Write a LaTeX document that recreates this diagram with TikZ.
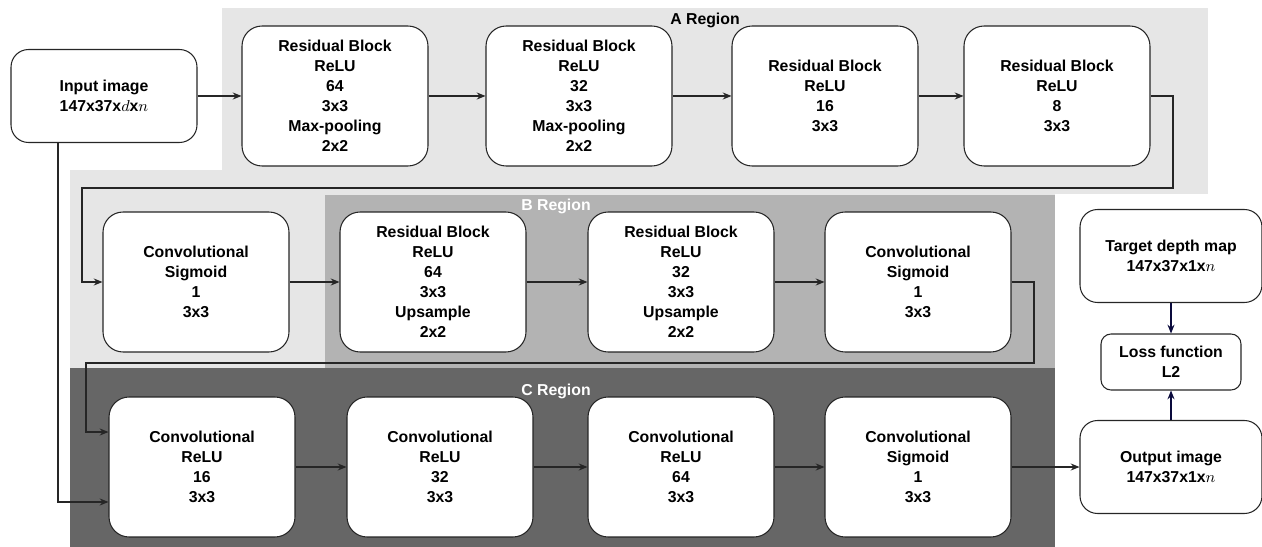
\documentclass[tikz,border=0pt]{standalone}
\usepackage{fontspec}
\setmainfont{Liberation Sans}
\usetikzlibrary{arrows.meta}
\definecolor{regionagray}{HTML}{E6E6E6}
\definecolor{regionbgray}{HTML}{B3B3B3}
\definecolor{regioncgray}{HTML}{666666}
\definecolor{linegray}{HTML}{262626}
\definecolor{arrownavy}{HTML}{0A0A3C}
\begin{document}
\begin{tikzpicture}
[x=0.02cm,y=-0.02cm,
  font=\fontsize{9}{11.4}\selectfont\bfseries,
  nodedecorate/.style={shape=rectangle,rounded corners=0.4cm,draw=linegray,fill=white,
    line width=0.6pt,align=center,minimum width=3.72cm,minimum height=2.8cm,inner sep=2pt},
  smalldecorate/.style={nodedecorate,minimum width=3.64cm,minimum height=1.86cm,rounded corners=0.35cm},
  lossdecorate/.style={nodedecorate,minimum width=2.8cm,minimum height=1.12cm,rounded corners=0.2cm},
  linedecorate/.style={-{Stealth[length=5pt,width=4pt]},line width=0.6pt,draw=linegray},
  regiontitle/.style={font=\fontsize{9}{11}\selectfont\bfseries}]
\useasboundingbox (0,0) rectangle (1262,547);
%% region backgrounds
\fill[regionagray] (222,8) rectangle (1208,194);
\fill[regionagray] (70,170) rectangle (1055,368);
\fill[regionbgray] (325,195) rectangle (1055,368);
\fill[regioncgray] (70,368) rectangle (1055,547);
\node[regiontitle] (atitle) at (705,20) {A Region};
\node[regiontitle,text=white] (btitle) at (556,206) {B Region};
\node[regiontitle,text=white] (ctitle) at (556,391) {C Region};
%% nodes or vertices
\node (inp) at (104,96) [smalldecorate,minimum width=3.72cm] {Input image\\147x37x$d$x$n$};
\foreach \nodename/\x/\y/\txt in {
  rba/335/96/{Residual Block\\ReLU\\64\\3x3\\Max-pooling\\2x2},
  rbb/579/96/{Residual Block\\ReLU\\32\\3x3\\Max-pooling\\2x2},
  rbc/825/96/{Residual Block\\ReLU\\16\\3x3},
  rbd/1057/96/{Residual Block\\ReLU\\8\\3x3},
  csa/196/282/{Convolutional\\Sigmoid\\1\\3x3},
  rbe/433/282/{Residual Block\\ReLU\\64\\3x3\\Upsample\\2x2},
  rbf/681/282/{Residual Block\\ReLU\\32\\3x3\\Upsample\\2x2},
  csb/918/282/{Convolutional\\Sigmoid\\1\\3x3},
  cva/202/467/{Convolutional\\ReLU\\16\\3x3},
  cvb/440/467/{Convolutional\\ReLU\\32\\3x3},
  cvc/681/467/{Convolutional\\ReLU\\64\\3x3},
  cvd/918/467/{Convolutional\\Sigmoid\\1\\3x3}} {
  \node (\nodename) at (\x,\y) [nodedecorate] {\txt};
}
\node (tgt) at (1171,256) [smalldecorate] {Target depth map\\147x37x1x$n$};
\node (loss) at (1171,362) [lossdecorate] {Loss function\\L2};
\node (out) at (1171,467) [smalldecorate] {Output image\\147x37x1x$n$};
%% edges or lines
\path
\foreach \startnode/\endnode in {inp/rba, rba/rbb, rbb/rbc, rbc/rbd, csa/rbe, rbe/rbf,
  rbf/csb, cva/cvb, cvb/cvc, cvc/cvd, cvd/out} {
  (\startnode) edge[linedecorate] (\endnode)
};
\path
\foreach \startnode/\endnode in {tgt/loss, out/loss} {
  (\startnode) edge[linedecorate,draw=arrownavy] (\endnode)
};
%% wrap-around lines
\coordinate (wrapa) at (1173,188);
\coordinate (wrapb) at (82,188);
\coordinate (wrapc) at (1034,363);
\coordinate (wrapd) at (86,363);
\draw[linedecorate] (rbd.east) -| (wrapa) -- (wrapb) |- (csa.west);
\draw[linedecorate] (csb.east) -| (wrapc) -- (wrapd) |- ([yshift=0.7cm]cva.west);
\draw[linedecorate] ([xshift=-0.92cm]inp.south) |- ([yshift=-0.7cm]cva.west);
\end{tikzpicture}
\end{document}
